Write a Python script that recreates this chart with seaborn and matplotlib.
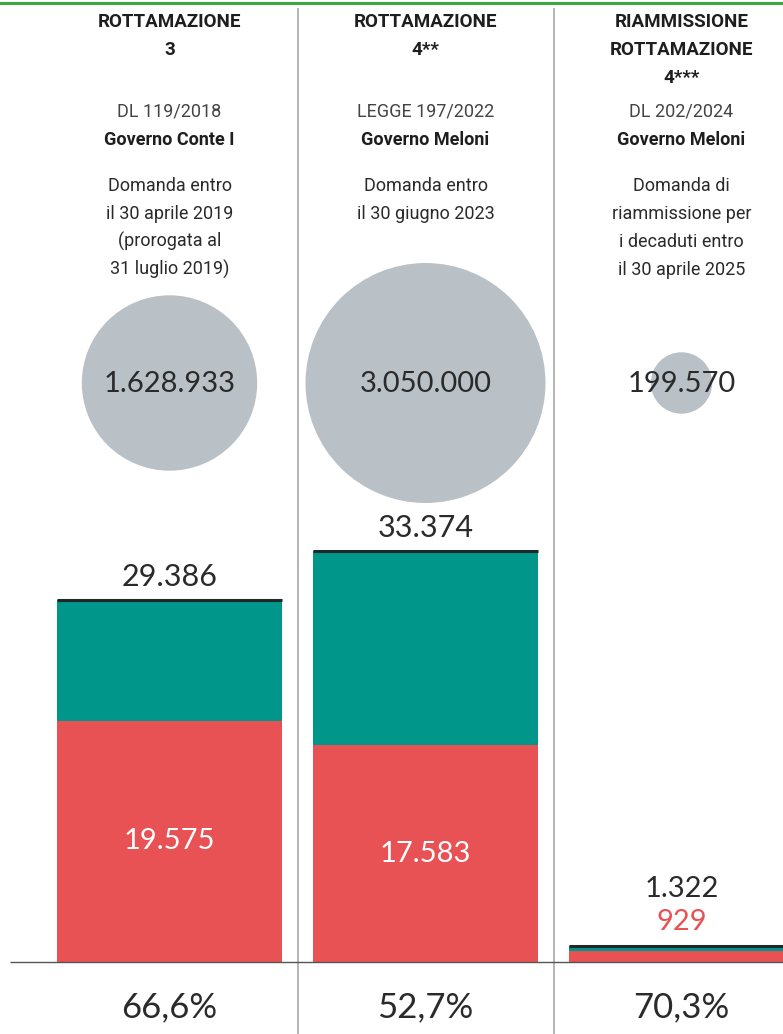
import numpy as np
import matplotlib
matplotlib.use('Agg')
import matplotlib.pyplot as plt
import matplotlib.transforms as mtransforms
import seaborn as sns

# data
positions = [0, 1, 2]
titles = [['ROTTAMAZIONE', '3'],
          ['ROTTAMAZIONE', '4**'],
          ['RIAMMISSIONE', 'ROTTAMAZIONE', '4***']]
laws = ['DL 119/2018', 'LEGGE 197/2022', 'DL 202/2024']
governments = ['Governo Conte I', 'Governo Meloni', 'Governo Meloni']
deadlines = [['Domanda entro', 'il 30 aprile 2019', '(prorogata al', '31 luglio 2019)'],
             ['Domanda entro', 'il 30 giugno 2023'],
             ['Domanda di', 'riammissione per', 'i decaduti entro', 'il 30 aprile 2025']]
applications = [1628933, 3050000, 199570]
totals = [29386, 33374, 1322]
red_part = [19575, 17583, 929]

TEAL = '#00968a'
RED = '#e85255'
GREY = '#b9c1c6'
INK = '#2a2a2a'

W, H = 783, 1034
BASE_PX = 962            # baseline of the bars, in pixels from the top
K = 29386 / 362          # data units per pixel
COL_PX = 256             # pixel distance between columns
X0_PX = 169.5            # pixel position of column 0


def fmt(v):
    return f"{v:,}".replace(',', '.')


def py(px):
    # pixel row (from top) -> figure fraction
    return 1 - px / H


def dy(px):
    # pixel row (from top) -> data y
    return (BASE_PX - px) * K


def main():
    sns.set_theme(style='white')
    plt.rcParams['font.family'] = ['Roboto', 'DejaVu Sans']

    fig = plt.figure(figsize=(W / 100, H / 100), dpi=100)
    ax = fig.add_axes([0, 0, 1, 1])
    tr = mtransforms.blended_transform_factory(ax.transData, fig.transFigure)

    # bubbles, area proportional to applications
    smax = (240 / 100 * 72) ** 2
    sns.scatterplot(x=positions, y=[dy(383)] * 3, size=applications,
                    sizes=(0, smax), size_norm=(0, max(applications)),
                    color=GREY, linewidth=0, legend=False, ax=ax, zorder=2)

    # stacked bars
    width = 225 / COL_PX
    sns.barplot(x=positions, y=totals, native_scale=True, width=width,
                color=TEAL, saturation=1, errorbar=None, linewidth=0, ax=ax, zorder=2)
    sns.barplot(x=positions, y=red_part, native_scale=True, width=width,
                color=RED, saturation=1, errorbar=None, linewidth=0, ax=ax, zorder=3)
    pos = np.array(positions)
    ax.hlines(totals, pos - width / 2, pos + width / 2, color='#1d2828', lw=2.2, zorder=4)

    # rules
    xmin = -X0_PX / COL_PX
    xmax = (W - X0_PX) / COL_PX
    ax.hlines(0, xmin + 10 / COL_PX, xmax, color='#555555', lw=1, zorder=5)
    ax.vlines([0.5, 1.5], dy(H), dy(8), color='#a8a8a8', lw=1.2, zorder=1)
    ax.axhline(dy(3), color='#3aaa40', lw=2.2, zorder=6)

    # header texts
    for i, lines in enumerate(titles):
        for j, line in enumerate(lines):
            ax.text(i, py(27 + 28 * j), line, transform=tr, ha='center', va='baseline',
                    fontsize=13.5, fontweight='bold', color='#1e1e1e')
        ax.text(i, py(117), laws[i], transform=tr, ha='center', va='baseline',
                fontsize=13, fontweight='normal', color='#444444')
        ax.text(i, py(145), governments[i], transform=tr, ha='center', va='baseline',
                fontsize=13, fontweight='bold', color='#1e1e1e')
        for j, line in enumerate(deadlines[i]):
            ax.text(i, py(191 + 28 * j), line, transform=tr, ha='center', va='baseline',
                    fontsize=13, color='#2a2a2a')

    num_font = ['Lato', 'DejaVu Sans']
    for i in positions:
        ax.text(i, py(392), fmt(applications[i]), transform=tr, ha='center', va='baseline',
                fontsize=21, family=num_font, color=INK, zorder=7)
        pct = f"{red_part[i] / totals[i] * 100:.1f}".replace('.', ',') + '%'
        ax.text(i, py(1017), pct, transform=tr, ha='center', va='baseline',
                fontsize=25, family=num_font, color=INK)

    # bar labels
    for i in [0, 1]:
        ax.annotate(fmt(totals[i]), (i, totals[i]), xytext=(0, 10), textcoords='offset points',
                    ha='center', va='baseline', fontsize=22, family=num_font, color=INK)
        ax.text(i, red_part[i] / 2, fmt(red_part[i]), ha='center', va='center',
                fontsize=21, family=num_font, color='white', zorder=7)
    ax.annotate(fmt(totals[2]), (2, totals[2]), xytext=(0, 35), textcoords='offset points',
                ha='center', va='baseline', fontsize=21, family=num_font, color=INK)
    ax.annotate(fmt(red_part[2]), (2, totals[2]), xytext=(0, 11), textcoords='offset points',
                ha='center', va='baseline', fontsize=21, family=num_font, color=RED)

    ax.set_xlim(xmin, xmax)
    ax.set_ylim(dy(H), dy(0))
    ax.axis('off')
    fig.savefig('out.png', dpi=100, facecolor='white')


if __name__ == '__main__':
    main()
